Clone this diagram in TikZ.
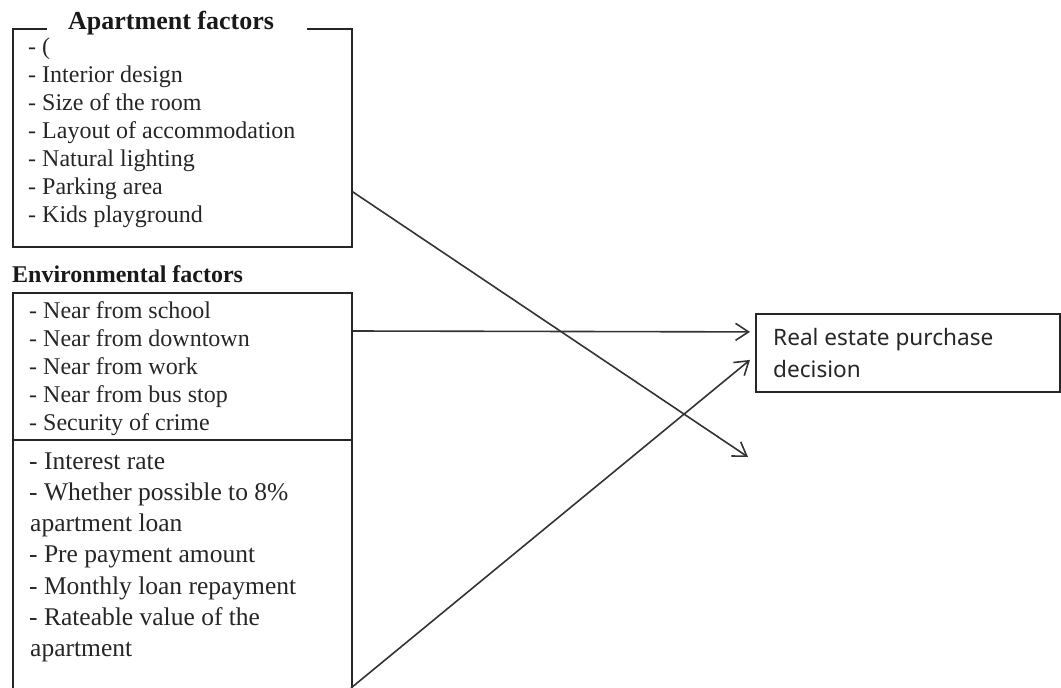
\documentclass[tikz,border=0pt]{standalone}
\usepackage{fontspec}
\setmainfont{Liberation Serif}
\newfontfamily\boxsans{Noto Sans}
\usetikzlibrary{arrows.meta}
\tikzset{
  boxline/.style={draw=black!85, line width=1.8pt},
  item/.style={anchor=base west, inner sep=0pt, font=\fontsize{24}{28}\selectfont, text=black!85},
  fitem/.style={anchor=base west, inner sep=0pt, font=\fontsize{25.5}{31}\selectfont, text=black!85},
  heading/.style={anchor=base west, inner sep=0pt, font=\bfseries\fontsize{24}{28}\selectfont, text=black!90},
  link/.style={draw=black!80, line width=1.6pt, -{Straight Barb[length=13pt,width=17pt,line width=1.6pt]}},
}
\begin{document}
\begin{tikzpicture}[x=1pt,y=-1pt]
\useasboundingbox (0,0) rectangle (1061,688);
\clip (0,0) rectangle (1061,688);
% apartment box
\node[boxline, anchor=north west, minimum width=339pt, minimum height=218pt, inner sep=0pt] (apt) at (12,28) {};
\node[fill=white, anchor=north west, minimum width=260pt, minimum height=8pt, inner sep=0pt] (aptgap) at (47,24) {};
\node[heading, font=\bfseries\fontsize{26}{28}\selectfont] (apttitle) at (68,30) {Apartment factors};
\node[item] (a0) at (28,54) {- (};
\node[item] (a1) at (28,82) {- Interior design};
\node[item] (a2) at (28,110) {- Size of the room};
\node[item] (a3) at (28,138) {- Layout of accommodation};
\node[item] (a4) at (28,166) {- Natural lighting};
\node[item] (a5) at (28,194) {- Parking area};
\node[item] (a6) at (28,222) {- Kids playground};
% environmental
\node[heading] (envtitle) at (12,282) {Environmental factors};
\node[boxline, anchor=north west, minimum width=339pt, minimum height=147pt, inner sep=0pt] (env) at (12,292) {};
\node[item] (e1) at (29,318) {- Near from school};
\node[item] (e2) at (29,346) {- Near from downtown};
\node[item] (e3) at (29,374) {- Near from work};
\node[item] (e4) at (29,402) {- Near from bus stop};
\node[item] (e5) at (29,430) {- Security of crime};
% financial
\node[boxline, anchor=north west, minimum width=339pt, minimum height=280pt, inner sep=0pt] (fin) at (12,439) {};
\node[fitem] (f1) at (29,469) {- Interest rate};
\node[fitem] (f2) at (29,500.3) {- Whether possible to 8\%};
\node[fitem] (f3) at (30,531.6) {apartment loan};
\node[fitem] (f4) at (29,562.9) {- Pre payment amount};
\node[fitem] (f5) at (29,594.2) {- Monthly loan repayment};
\node[fitem] (f6) at (29,625.5) {- Rateable value of the};
\node[fitem] (f7) at (30,656.8) {apartment};
% decision
\node[boxline, anchor=north west, minimum width=304pt, minimum height=78pt, inner sep=0pt] (rpd) at (755,313) {};
\node[anchor=base west, inner sep=0pt, font=\boxsans\fontsize{22.6}{32}\selectfont, text=black!85] (rpd1) at (773,345) {Real estate purchase};
\node[anchor=base west, inner sep=0pt, font=\boxsans\fontsize{22.6}{32}\selectfont, text=black!85] (rpd2) at (773,377) {decision};
% connectors
\coordinate (finbot) at (351,688);
\coordinate (freeend) at (748,457);
\draw[link] ([yshift=-54pt]apt.east) -- (freeend);
\draw[link] (env.east |- 0,331) -- ([xshift=-5pt,yshift=21pt]rpd.west);
\draw[link] (finbot) -- ([xshift=-5pt,yshift=-7pt]rpd.west);
\end{tikzpicture}
\end{document}
